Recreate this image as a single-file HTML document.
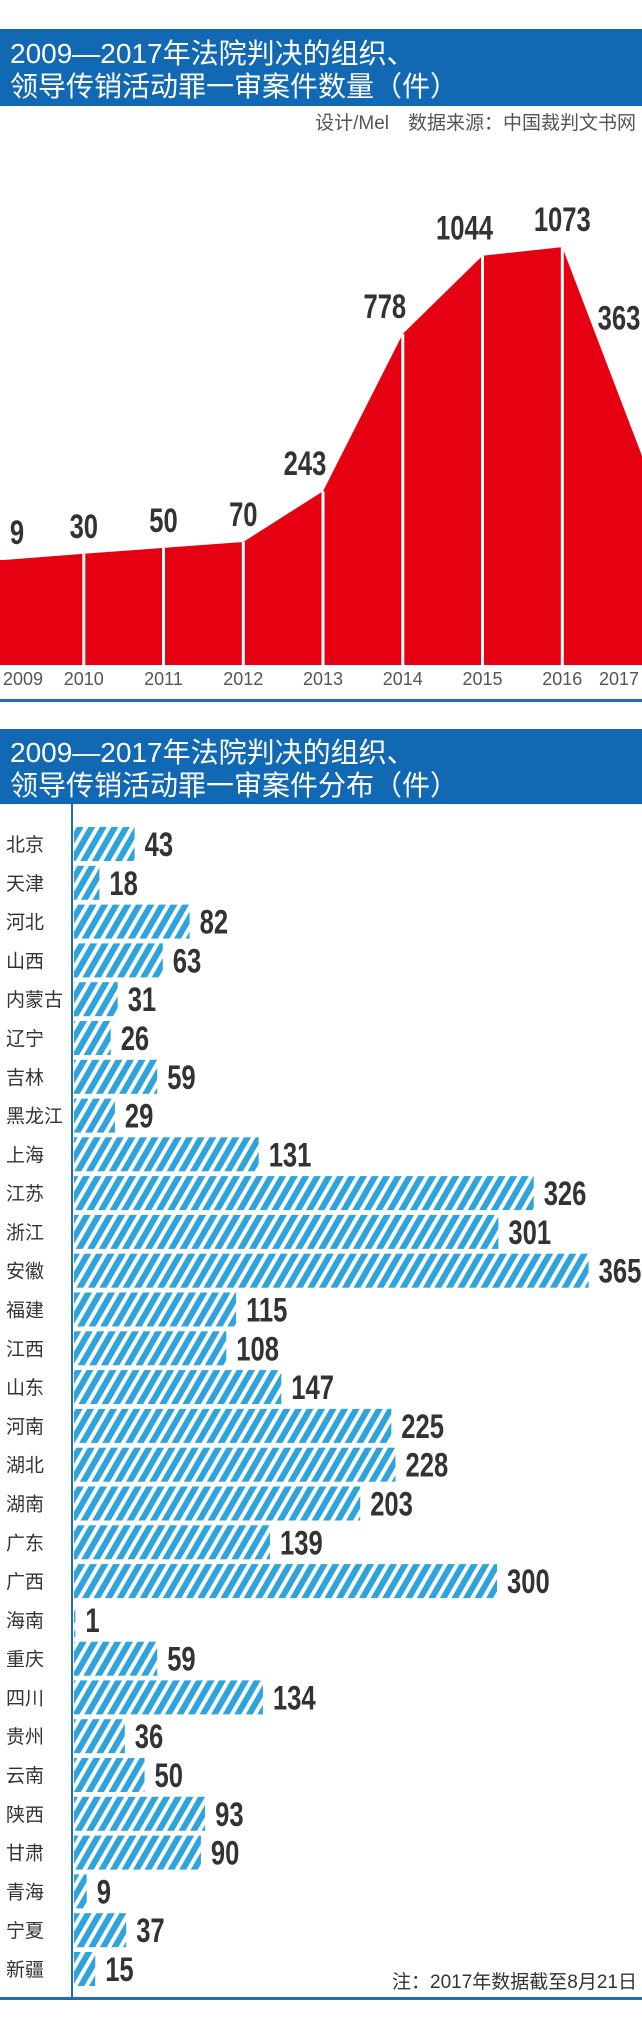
<!DOCTYPE html>
<html><head><meta charset="utf-8">
<style>
html,body{margin:0;padding:0;background:#fff;}
body{width:642px;height:2029px;overflow:hidden;}
svg{display:block;}
.ttl{font-family:"Liberation Sans","Noto Sans CJK SC",sans-serif;font-size:28px;fill:#fff;}
.num{font-family:"Liberation Sans Narrow","Liberation Sans",sans-serif;font-weight:bold;fill:#333;}
.cjk{font-family:"Liberation Sans","Noto Sans CJK SC",sans-serif;}
</style></head>
<body>
<svg id="chart" width="642" height="2029" viewBox="0 0 642 2029" xmlns="http://www.w3.org/2000/svg">
<defs>
<pattern id="hatch" patternUnits="userSpaceOnUse" width="10" height="10" patternTransform="rotate(30)">
<rect x="0" y="0" width="6" height="10" fill="#2ea3dc"/>
</pattern>
</defs>
<rect x="0" y="29" width="642" height="77" fill="#1269b3"/>
<text class="ttl" x="10" y="63">2009—2017年法院判决的组织、</text>
<text class="ttl" x="10" y="96">领导传销活动罪一审案件数量（件）</text>
<text class="cjk" x="636" y="129" text-anchor="end" font-size="19" fill="#555">设计/Mel　数据来源：中国裁判文书网</text>
<g id="area"></g>
<rect x="0" y="699" width="642" height="3" fill="#1f6fb0"/>
<rect x="0" y="729" width="642" height="75" fill="#1269b3"/>
<text class="ttl" x="10" y="762">2009—2017年法院判决的组织、</text>
<text class="ttl" x="10" y="795">领导传销活动罪一审案件分布（件）</text>
<g id="bars"></g>
<rect x="71" y="804" width="2" height="1195" fill="#1f6fb0"/>
<rect x="0" y="1997" width="642" height="3" fill="#1f6fb0"/>
<text class="cjk" x="637" y="1988" text-anchor="end" font-size="19" fill="#333">注：2017年数据截至8月21日</text>
</svg>
<script>
const years = ["2009","2010","2011","2012","2013","2014","2015","2016","2017"];
const counts = [9,30,50,70,243,778,1044,1073,363];
const provinces = ["北京","天津","河北","山西","内蒙古","辽宁","吉林","黑龙江","上海","江苏","浙江","安徽","福建","江西","山东","河南","湖北","湖南","广东","广西","海南","重庆","四川","贵州","云南","陕西","甘肃","青海","宁夏","新疆"];
const cases = [43,18,82,63,31,26,59,29,131,326,301,365,115,108,147,225,228,203,139,300,1,59,134,36,50,93,90,9,37,15];

const NS = "http://www.w3.org/2000/svg";
function mk(tag, attrs, parent){const e=document.createElementNS(NS,tag);for(const k in attrs)e.setAttribute(k,attrs[k]);parent.appendChild(e);return e;}

// area chart scales
const ax = i => 4 + i*(638/(years.length-1));
const ay = v => 562.6 - 0.294*v;
const base = 665;
const area = document.getElementById('area');
let pts = "0," + ay(counts[0]).toFixed(1) + " ";
counts.forEach((v,i)=>{pts += ax(i).toFixed(1)+","+ay(v).toFixed(1)+" ";});
pts += "642,"+base+" 0,"+base;
const poly = mk('polygon',{points:pts,fill:'#e50012'},area);


counts.forEach((v,i)=>{
  if(i>0 && i<counts.length-1){
    const ln = mk('rect',{x:(ax(i)-1.5).toFixed(1),y:ay(v).toFixed(1),width:3,height:(base-ay(v)).toFixed(1),fill:'#fff'},area);
    
    
  }
  let lx, ly;
  if(i===counts.length-1){
    lx = Math.min(619,(ax(i)+ax(i-1))/2+18);
    ly = (ay(v)+ay(counts[i-1]))/2 - 22;
  } else {
    lx = Math.max(17, ax(i) - (i>=4&&i<=6?18:0));
    ly = ay(v) - 16;
  }
  const t = mk('text',{x:0,y:0,transform:'translate('+lx.toFixed(1)+','+ly.toFixed(1)+') scale(0.8,1.08)','text-anchor':'middle','font-size':32,class:'num'},area);
  t.textContent = v;
  
  
  const yl = mk('text',{x:Math.min(619,Math.max(23,ax(i))).toFixed(1),y:685,'text-anchor':'middle','font-size':18,fill:'#555',class:'cjk'},area);
  yl.textContent = years[i];
  
  
});

// bar chart scales
const bx = v => 74 + 1.41*v;
const by = i => 844 + i*(1125/(provinces.length-1));
const bars = document.getElementById('bars');
provinces.forEach((p,i)=>{
  const cy = by(i);
  const lab = mk('text',{x:6,y:(cy+7).toFixed(1),'font-size':19,fill:'#333',class:'cjk'},bars);
  lab.textContent = p;
  
  
  const w = bx(cases[i]) - bx(0);
  const r = mk('rect',{x:bx(0),y:(cy-17).toFixed(1),width:w.toFixed(1),height:34,fill:'url(#hatch)'},bars);
  
  
  const t = mk('text',{x:0,y:0,transform:'translate('+(bx(cases[i])+10).toFixed(1)+','+(cy+12).toFixed(1)+') scale(0.8,1.08)','font-size':32,class:'num'},bars);
  t.textContent = cases[i];
  
  
});
</script>
</body></html>
